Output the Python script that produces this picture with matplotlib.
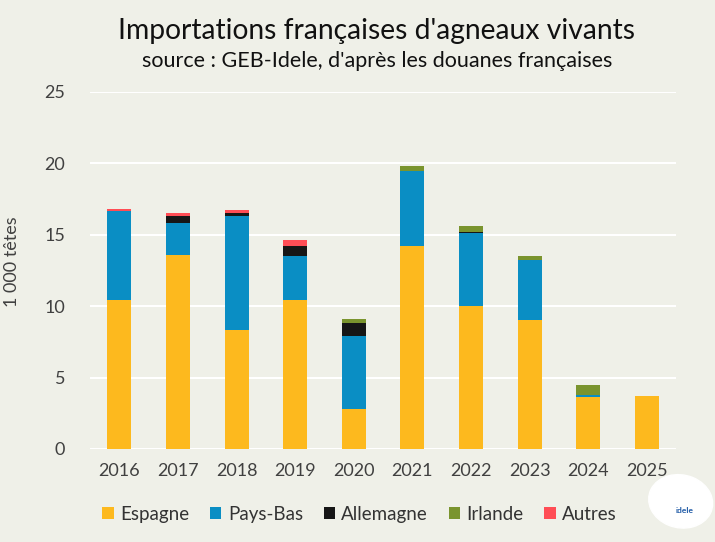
import matplotlib.pyplot as plt
import numpy as np
from matplotlib.patches import Ellipse

# donnees (milliers de tetes)
annees = ['2016', '2017', '2018', '2019', '2020', '2021', '2022', '2023', '2024', '2025']
espagne = [10.4, 13.6, 8.3, 10.45, 2.8, 14.2, 10.0, 9.0, 3.65, 3.7]
pays_bas = [6.3, 2.2, 8.05, 3.05, 5.1, 5.25, 5.1, 4.2, 0.1, 0.0]
allemagne = [0.0, 0.5, 0.2, 0.7, 0.9, 0.0, 0.1, 0.0, 0.0, 0.0]
irlande = [0.0, 0.0, 0.0, 0.0, 0.3, 0.35, 0.45, 0.3, 0.75, 0.0]
autres = [0.1, 0.2, 0.2, 0.4, 0.0, 0.0, 0.0, 0.0, 0.0, 0.0]

series = [('Espagne', espagne, '#FDB91E'),
          ('Pays-Bas', pays_bas, '#0A8EC4'),
          ('Allemagne', allemagne, '#161616'),
          ('Irlande', irlande, '#7A942E'),
          ('Autres', autres, '#FF4D55')]

fond = '#EFF0E8'
plt.rcParams['font.family'] = ['Lato', 'DejaVu Sans']

fig = plt.figure(figsize=(7.15, 5.42), dpi=100, facecolor=fond)
ax = fig.add_axes([0.126, 0.1716, 0.8196, 0.6587], facecolor=fond)

x = np.arange(len(annees))
bas = np.zeros(len(annees))
for nom, val, coul in series:
    ax.bar(x, val, 0.41, bottom=bas, color=coul, label=nom, zorder=3)
    bas += np.array(val)

ax.set_xlim(-0.5, len(annees) - 0.5)
ax.set_ylim(0, 25)
ax.set_yticks([0, 5, 10, 15, 20, 25])
ax.set_xticks(x)
ax.set_xticklabels(annees)
ax.grid(axis='y', color='white', linewidth=1.5, zorder=0)
for s in ax.spines.values():
    s.set_visible(False)
ax.tick_params(length=0, labelsize=13, colors='#404040')
ax.tick_params(axis='y', pad=18)
ax.tick_params(axis='x', pad=10)

# titre de l'axe y
fig.text(12 / 715, 1 - 262 / 542, '1 000 têtes', rotation=90, ha='center', va='center',
         fontsize=13, color='#404040')

fig.text(0.526, 0.943, "Importations françaises d'agneaux vivants",
         ha='center', va='center', fontsize=20.3, color='#111111')
fig.text(0.527, 0.888, "source : GEB-Idele, d'après les douanes françaises",
         ha='center', va='center', fontsize=15.5, color='#111111')

leg = fig.legend(loc='center', bbox_to_anchor=(0.503, 0.051), ncol=5, frameon=False,
                 fontsize=13.5, handlelength=0.6, handleheight=0.6, handletextpad=0.35,
                 columnspacing=1.1)
for t in leg.get_texts():
    t.set_color('#333333')

# petit logo
fig.patches.append(Ellipse((0.952, 0.075), 0.088, 0.1, angle=20, color='white',
                           transform=fig.transFigure, figure=fig))
fig.text(0.958, 0.058, 'idele', ha='center', va='center', fontsize=6,
         color='#1F5AA6', fontweight='bold')

fig.savefig('out.png', dpi=100, facecolor=fond)
